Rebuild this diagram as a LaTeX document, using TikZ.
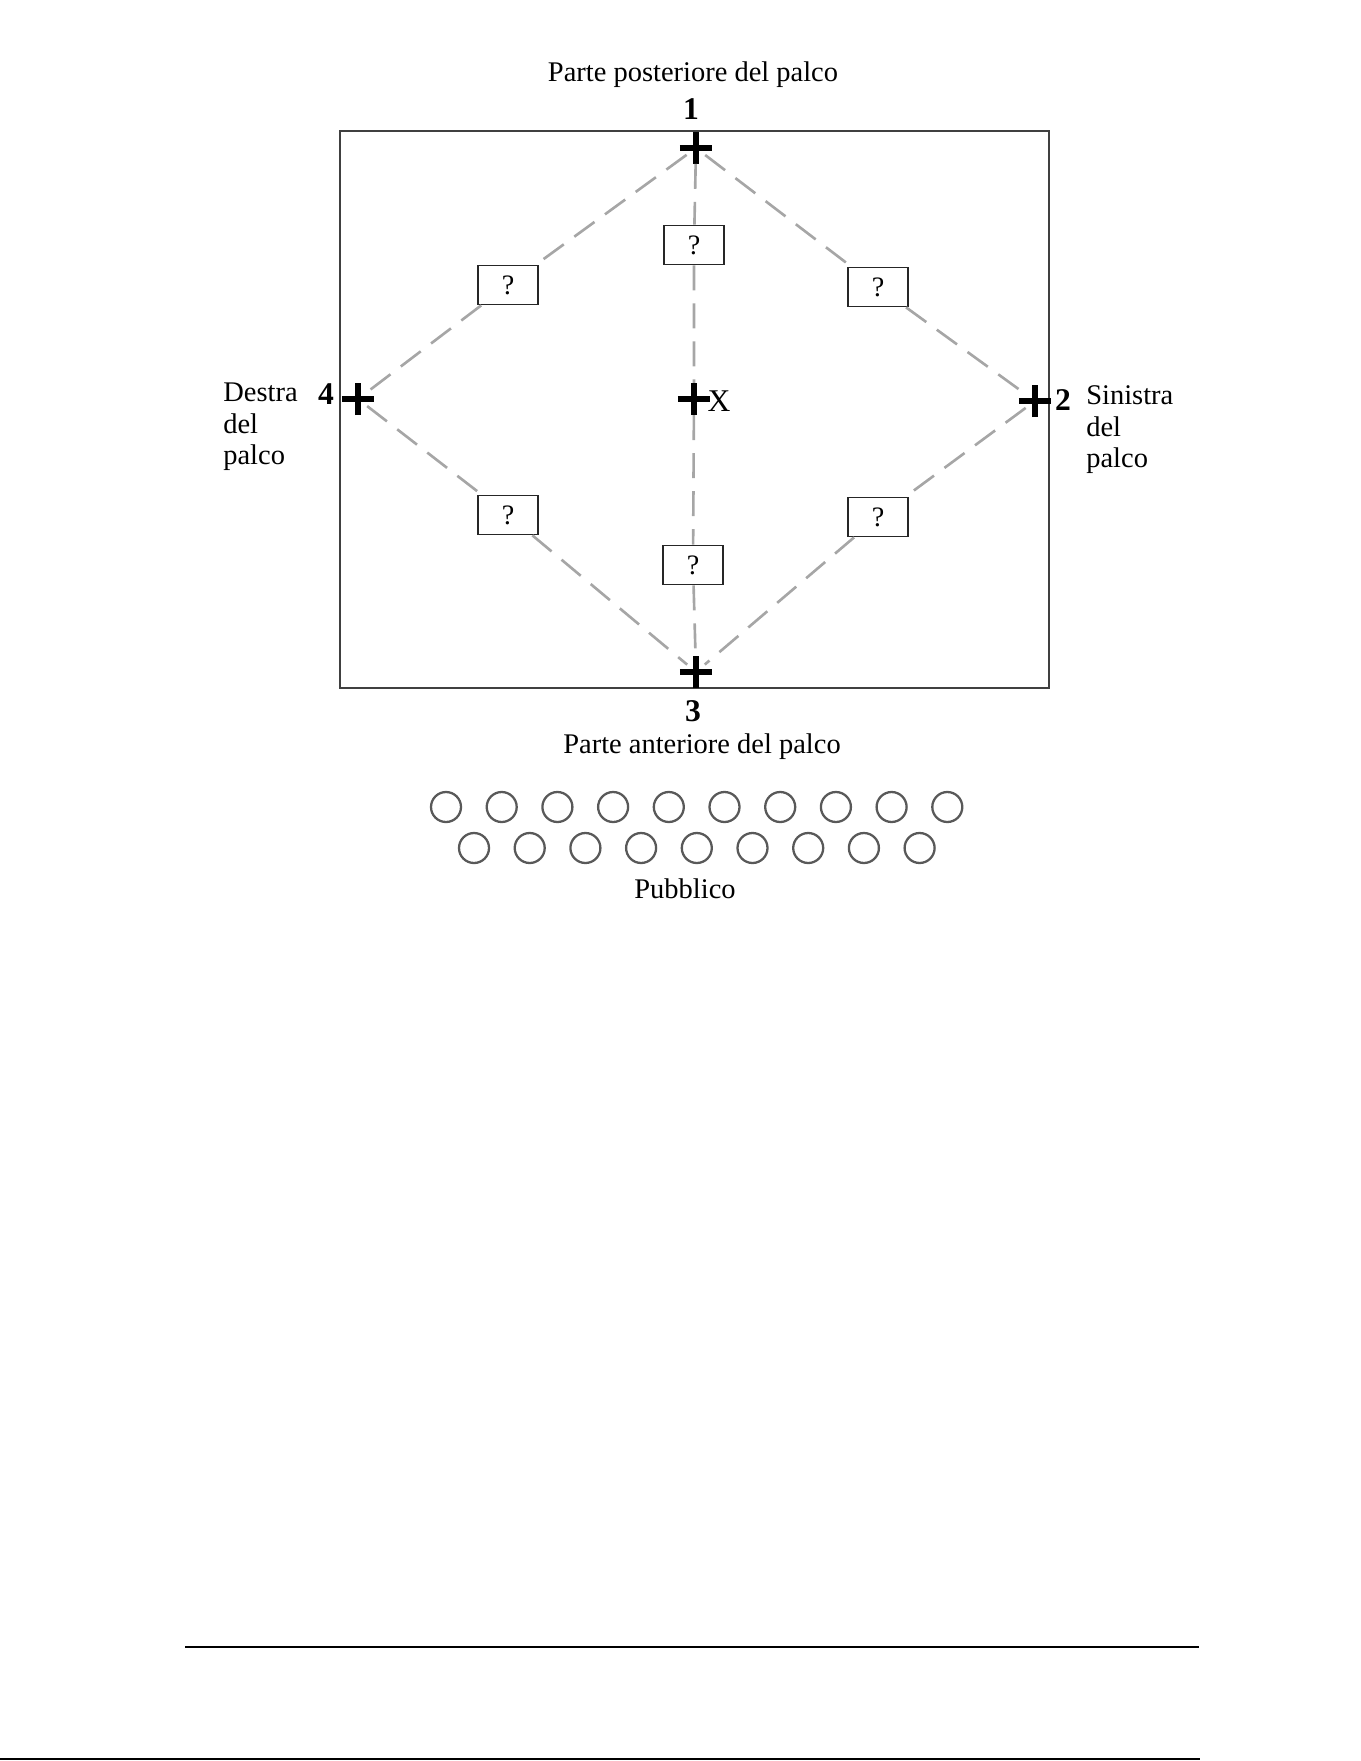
\documentclass[tikz,border=0pt]{standalone}
\usepackage{fontspec}
\setmainfont{Liberation Serif}
\usetikzlibrary{positioning, shapes.misc}
\tikzset{
    lbl/.style={font=\fontsize{16.2}{17.9}\selectfont, inner sep=0pt},
    sidelbl/.style={font=\fontsize{16.2}{17.9}\selectfont, align=left, inner sep=0pt, anchor=west},
    numlbl/.style={font=\fontsize{18}{20}\selectfont\bfseries, inner sep=0pt},
    qbox/.style={draw=black!85, fill=white, line width=1pt, minimum width=1.2cm, minimum height=0.78cm, inner sep=0pt, font=\fontsize{16}{18}\selectfont},
    crossmark/.style={draw=black, cross out, rotate=45, line width=3.4pt, minimum size=0.34cm, inner sep=0pt},
    dashln/.style={draw=black!35, line width=1.5pt, dash pattern=on 0.5cm off 0.26cm},
    seat/.style={circle, draw=black!65, line width=1.3pt, minimum size=0.6cm, inner sep=0pt}
}
\begin{document}
\begin{tikzpicture}[x=0.02cm, y=-0.02cm]
    \useasboundingbox (0,0) rectangle (1361,1761);
    % palco
    \draw[black!75, line width=1.1pt] (340,131) rectangle (1049,688);
    \node[lbl] (back) at (693,75) {Parte posteriore del palco};
    \node[lbl] (front) at (702,747) {Parte anteriore del palco};
    % punti
    \node[crossmark] (p1) at (696,148) {};
    \node[crossmark] (p2) at (1035,401) {};
    \node[crossmark] (p3) at (696,672) {};
    \node[crossmark] (p4) at (358,399) {};
    \node[crossmark] (px) at (694,399) {};
    \node[numlbl] (n1) at (691,109) {1};
    \node[numlbl] (n2) at (1063,400) {2};
    \node[numlbl] (n3) at (693,711) {3};
    \node[numlbl] (n4) at (326,394) {4};
    \node[font=\fontsize{18}{20}\selectfont, inner sep=0pt] (xl) at (719,401) {X};
    \node[sidelbl] (dx) at (223,427) {Destra\\del\\palco};
    \node[sidelbl] (sx) at (1086,430) {Sinistra\\del\\palco};
    % domande
    \node[qbox] (qt) at (694,245) {?};
    \node[qbox] (qul) at (508,285) {?};
    \node[qbox] (qur) at (878,287) {?};
    \node[qbox] (qll) at (508,515) {?};
    \node[qbox] (qlr) at (878,517) {?};
    \node[qbox] (qb) at (693,565) {?};
    \draw[dashln] (p1) -- (qul) -- (p4);
    \draw[dashln] (p1) -- (qur) -- (p2);
    \draw[dashln] (p4) -- (qll) -- (p3);
    \draw[dashln] (p2) -- (qlr) -- (p3);
    \draw[dashln] (p1) -- (qt) -- (px) -- (qb) -- (p3);
    % pubblico
    \foreach \i in {0,...,9}
      \node[seat] (sa\i) at (446+55.7*\i,807) {};
    \foreach \i in {0,...,8}
      \node[seat] (sb\i) at (474+55.7*\i,848) {};
    \node[lbl] (pub) at (685,889) {Pubblico};
    % pie di pagina
    \draw[line width=1.1pt] (185,1647) -- (1199,1647);
    \draw[line width=1.1pt] (0,1759) -- (1200,1759);
\end{tikzpicture}
\end{document}
